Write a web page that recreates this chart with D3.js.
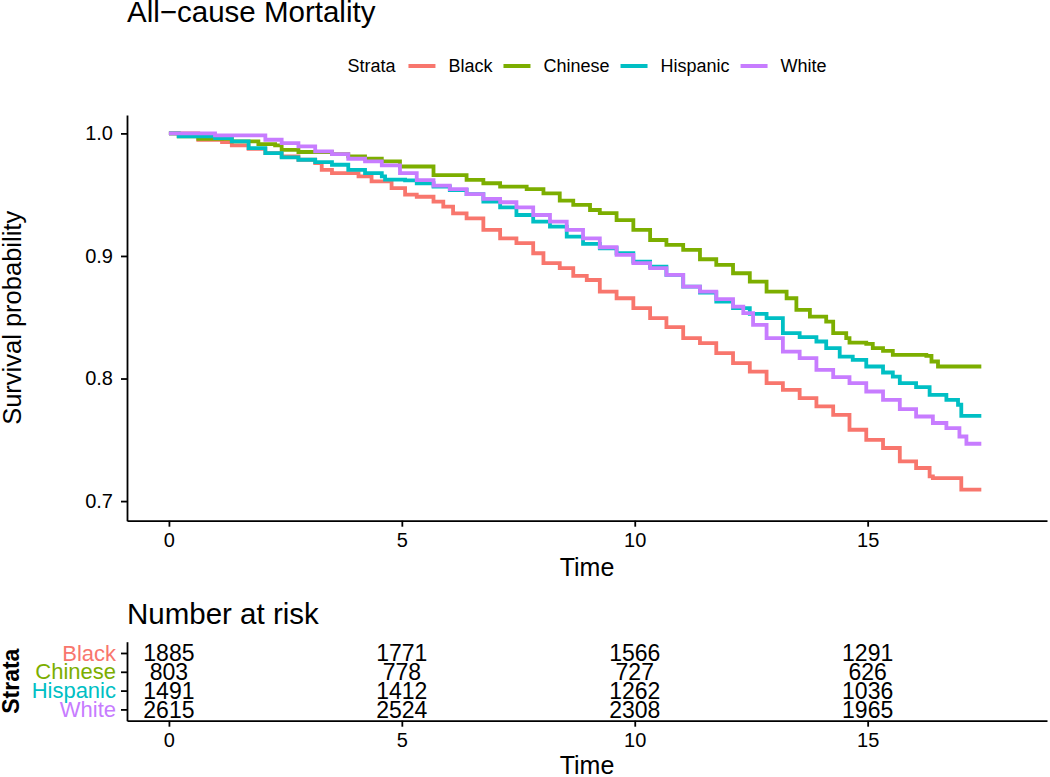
<!DOCTYPE html>
<html>
<head>
<meta charset="utf-8">
<script src="https://cdn.jsdelivr.net/npm/d3@7"></script>
<style>
  body { margin: 0; background: #fff; }
  svg text { font-family: "Liberation Sans", Arial, sans-serif; }
</style>
</head>
<body>
<div class="box"></div>
<script>
// Kaplan-Meier estimates: [time, survival]
const strata = ["Black", "Chinese", "Hispanic", "White"];
const couleurs = ["#F8766D", "#7CAE00", "#00BFC4", "#C77CFF"];

const kmBlack = [[0,1.0],[0.63,0.9948],[1.14,0.9929],[1.35,0.9902],[1.71,0.9874],[2.07,0.9839],[2.42,0.9813],
  [2.78,0.9785],[3.14,0.9758],[3.28,0.9703],[3.5,0.9676],[4.07,0.965],[4.35,0.9609],[4.78,0.9554],[5.07,0.95],
  [5.32,0.9483],[5.68,0.9443],[5.89,0.9402],[6.1,0.9348],[6.39,0.9307],[6.75,0.9212],[7.11,0.9144],[7.46,0.9104],
  [7.82,0.9022],[8.04,0.8941],[8.39,0.89],[8.68,0.8837],[8.97,0.8804],[9.25,0.8709],[9.61,0.8655],[9.97,0.8574],
  [10.33,0.8492],[10.68,0.8419],[11.04,0.8329],[11.4,0.8289],[11.75,0.8207],[12.11,0.8126],[12.47,0.8057],
  [12.83,0.7963],[13.18,0.7908],[13.54,0.784],[13.9,0.7772],[14.26,0.7704],[14.61,0.7582],[14.97,0.75],
  [15.33,0.7433],[15.69,0.7324],[16.04,0.727],[16.33,0.7201],[16.4,0.7188],[17.01,0.7093],[17.44,0.7093]];
const kmChinese = [[0,1.0],[0.21,0.9976],[0.63,0.9956],[1.35,0.9935],[1.92,0.9913],[2.28,0.9902],[2.42,0.9866],
  [2.78,0.9848],[3.5,0.9831],[3.85,0.9813],[4.21,0.9793],[4.57,0.9772],[4.96,0.973],[5.68,0.966],[6.39,0.962],
  [6.75,0.9593],[7.11,0.9565],[7.68,0.9546],[8.04,0.9511],[8.39,0.9451],[8.68,0.9416],[9.04,0.9375],[9.25,0.935],
  [9.61,0.9293],[9.97,0.9212],[10.33,0.913],[10.68,0.909],[11.04,0.9049],[11.4,0.8973],[11.75,0.8927],
  [12.11,0.8859],[12.47,0.8791],[12.83,0.8709],[13.26,0.8655],[13.47,0.856],[13.76,0.8505],[14.11,0.8465],
  [14.26,0.837],[14.54,0.8329],[14.61,0.8293],[14.97,0.8283],[15.11,0.8248],[15.33,0.8226],[15.54,0.8193],
  [16.26,0.8185],[16.37,0.8139],[16.51,0.8098],[17.44,0.8098]];
const kmHispanic = [[0,1.0],[0.21,0.9976],[0.99,0.9962],[1.35,0.9935],[1.71,0.988],[2.07,0.9839],[2.42,0.9804],
  [2.78,0.9785],[3.14,0.9766],[3.5,0.9744],[3.85,0.9703],[4.21,0.9676],[4.57,0.965],[4.64,0.9622],[5.07,0.9617],
  [5.32,0.9593],[5.68,0.9565],[6.03,0.9538],[6.39,0.9505],[6.75,0.9443],[7.11,0.9397],[7.46,0.9334],[7.82,0.928],
  [8.18,0.9239],[8.54,0.9157],[8.89,0.9098],[9.25,0.9063],[9.61,0.9022],[9.97,0.8954],[10.33,0.8913],
  [10.68,0.8845],[11.04,0.875],[11.4,0.8701],[11.75,0.8628],[12.11,0.8574],[12.47,0.8527],[12.83,0.8492],
  [13.18,0.837],[13.54,0.8337],[13.9,0.8302],[14.11,0.8248],[14.4,0.8179],[14.68,0.8152],[14.97,0.8098],
  [15.33,0.8049],[15.54,0.8016],[15.69,0.7963],[16.04,0.793],[16.33,0.7867],[16.69,0.7826],[16.94,0.7786],
  [17.01,0.7696],[17.44,0.7696]];
const kmWhite = [[0,1.0],[0.99,0.9984],[2.07,0.9948],[2.42,0.9921],[2.78,0.9894],[3.14,0.9853],[3.5,0.9831],
  [3.85,0.9793],[4.21,0.9772],[4.57,0.9739],[4.96,0.9676],[5.32,0.9619],[5.68,0.9573],[6.03,0.9546],[6.39,0.9505],
  [6.75,0.9465],[7.11,0.9438],[7.46,0.9397],[7.82,0.9334],[8.18,0.928],[8.54,0.9212],[8.89,0.9144],[9.25,0.9071],
  [9.61,0.9008],[9.97,0.8941],[10.33,0.89],[10.68,0.8845],[11.04,0.875],[11.4,0.8709],[11.75,0.8647],
  [12.11,0.8587],[12.33,0.8533],[12.54,0.8438],[12.83,0.8329],[13.18,0.822],[13.54,0.8166],[13.9,0.8071],
  [14.26,0.8011],[14.61,0.7963],[14.97,0.7894],[15.33,0.7826],[15.69,0.7751],[16.04,0.769],[16.4,0.7637],
  [16.69,0.7596],[16.97,0.7527],[17.12,0.7468],[17.44,0.7468]];

// number at risk table
const riskTimes = [0, 5, 10, 15];
const riskBlack = [1885, 1771, 1566, 1291];
const riskChinese = [803, 778, 727, 626];
const riskHispanic = [1491, 1412, 1262, 1036];
const riskWhite = [2615, 2524, 2308, 1965];

const xTicks = [0, 5, 10, 15];
const yTicks = [0.7, 0.8, 0.9, 1.0];

const courbes = [kmBlack, kmChinese, kmHispanic, kmWhite];
const risques = [riskBlack, riskChinese, riskHispanic, riskWhite];

const dims = {width: 1050, height: 777, left: 127, right: 1047, top: 115, bottom: 520.7,
              tTop: 641.7, tBottom: 720.7};

const svg = d3.select('.box')
    .append('svg')
    .attr('width', dims.width)
    .attr('height', dims.height);

const x = d3.scaleLinear().domain([-0.9, 18.85]).range([dims.left, dims.right]);
const y = d3.scaleLinear().domain([0.684, 1.015]).range([dims.bottom, dims.top]);
const couleur = d3.scaleOrdinal().domain(strata).range(couleurs);

const styleAxe = (g, taille) => {
    g.select('.domain').attr('stroke', '#000').attr('stroke-width', 1.8);
    g.selectAll('.tick line').attr('stroke', '#000').attr('stroke-width', 1.8);
    g.selectAll('.tick text').style('font-size', taille).style('fill', '#000')
        .style('font-family', '"Liberation Sans", Arial, sans-serif');
};

// title
svg.append('text')
    .attr('x', dims.left).attr('y', 22)
    .style('font-size', '29.5px')
    .text('All\u2212cause Mortality');

// legend
const legende = svg.append('g').attr('class', 'legend');
const lt = legende.append('text').attr('y', 72).style('font-size', '18px').text('Strata');
let cx = lt.node().getComputedTextLength() + 13;
strata.forEach((s, i) => {
    legende.append('line')
        .attr('x1', cx).attr('x2', cx + 27)
        .attr('y1', 66).attr('y2', 66)
        .attr('stroke', couleur(s)).attr('stroke-width', 4);
    cx += 27 + 13;
    const t = legende.append('text').attr('x', cx).attr('y', 72)
        .style('font-size', '18px').text(s);
    cx += t.node().getComputedTextLength() + (i < strata.length - 1 ? 11 : 0);
});
legende.attr('transform', `translate(${(dims.left + dims.right) / 2 - cx / 2},0)`);

// survival curves
const ligne = d3.line()
    .x(d => x(d[0]))
    .y(d => y(d[1]))
    .curve(d3.curveStepAfter);

svg.append('g').selectAll('path')
    .data(courbes)
    .enter()
    .append('path')
    .attr('d', ligne)
    .attr('fill', 'none')
    .attr('stroke', (d, i) => couleur(strata[i]))
    .attr('stroke-width', 3.8);

// axes of the main plot
const axeY = svg.append('g')
    .attr('transform', `translate(${dims.left},0)`)
    .call(d3.axisLeft(y).tickValues(yTicks).tickFormat(d3.format('.1f'))
        .tickSize(6).tickSizeOuter(0).tickPadding(8));
styleAxe(axeY, '20px');

const axeX = svg.append('g')
    .attr('transform', `translate(0,${dims.bottom})`)
    .call(d3.axisBottom(x).tickValues(xTicks).tickSize(6).tickSizeOuter(0).tickPadding(6));
styleAxe(axeX, '20px');

svg.append('text')
    .attr('x', (dims.left + dims.right) / 2).attr('y', 576)
    .attr('text-anchor', 'middle').style('font-size', '25px')
    .text('Time');

svg.append('text')
    .attr('transform', `translate(21,${(dims.top + dims.bottom) / 2}) rotate(-90)`)
    .attr('text-anchor', 'middle').style('font-size', '25.5px')
    .text('Survival probability');

// number at risk
svg.append('text')
    .attr('x', dims.left).attr('y', 623.5)
    .style('font-size', '29.5px')
    .text('Number at risk');

const yr = d3.scalePoint().domain(strata).range([dims.tTop, dims.tBottom]).padding(0.6);

const axeYr = svg.append('g')
    .attr('transform', `translate(${dims.left},0)`)
    .call(d3.axisLeft(yr).tickSize(6).tickSizeOuter(0).tickPadding(5));
styleAxe(axeYr, '22px');
axeYr.selectAll('.tick text').style('fill', d => couleur(d));

const axeXr = svg.append('g')
    .attr('transform', `translate(0,${dims.tBottom})`)
    .call(d3.axisBottom(x).tickValues(xTicks).tickSize(6).tickSizeOuter(0).tickPadding(6));
styleAxe(axeXr, '20px');

strata.forEach((s, i) => {
    svg.append('g').selectAll('text')
        .data(risques[i])
        .enter()
        .append('text')
        .attr('x', (d, j) => x(riskTimes[j]))
        .attr('y', yr(s))
        .attr('dy', '0.36em')
        .attr('text-anchor', 'middle')
        .style('font-size', '23px')
        .text(d => d);
});

svg.append('text')
    .attr('x', (dims.left + dims.right) / 2).attr('y', 774)
    .attr('text-anchor', 'middle').style('font-size', '25px')
    .text('Time');

svg.append('text')
    .attr('transform', `translate(19,${(dims.tTop + dims.tBottom) / 2}) rotate(-90)`)
    .attr('text-anchor', 'middle').style('font-size', '23px').style('font-weight', 'bold')
    .text('Strata');
</script>
</body>
</html>
